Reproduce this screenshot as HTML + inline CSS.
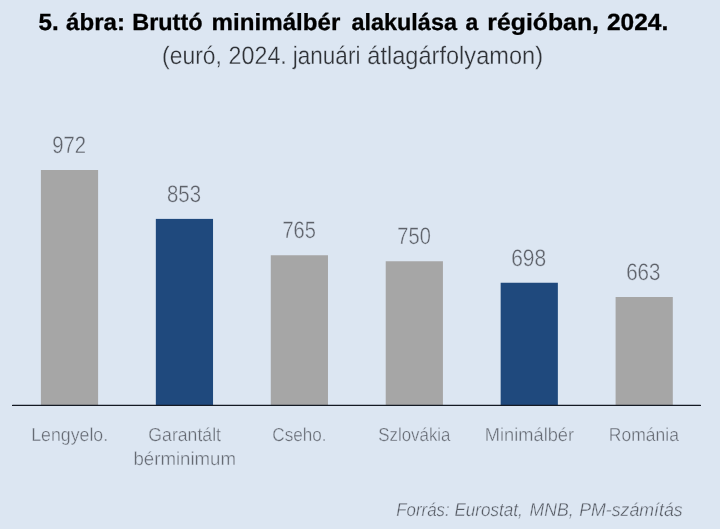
<!DOCTYPE html>
<html lang="hu"><head><meta charset="utf-8"><title>5. ábra: Bruttó minimálbér alakulása a régióban, 2024.</title>
<style>
html,body{margin:0;padding:0;background:#dce6f2;}
body{width:720px;height:529px;overflow:hidden;}
svg{display:block;font-family:"Liberation Sans",sans-serif;}
.t{font-size:23.4px;font-weight:bold;fill:#000;stroke:#000;stroke-width:0.3px;}
.s{font-size:25.2px;fill:#2f3237;stroke:#dce6f2;stroke-width:0.3px;paint-order:fill stroke;}
.v{font-size:23.8px;fill:#5e626a;stroke:#dce6f2;stroke-width:0.35px;paint-order:fill stroke;}
.c{font-size:18.8px;fill:#656a73;stroke:#dce6f2;stroke-width:0.35px;paint-order:fill stroke;}
.f{font-size:18.7px;font-style:italic;fill:#555a63;stroke:#dce6f2;stroke-width:0.35px;paint-order:fill stroke;}
</style></head><body>
<svg width="720" height="529" viewBox="0 0 720 529" style="filter:blur(0.45px)">
<rect x="0" y="0" width="720" height="529" fill="#dce6f2"/>
<rect x="40.90" y="170.0" width="57.2" height="235.40" fill="#a6a6a6"/>
<rect x="155.84" y="218.9" width="57.2" height="186.50" fill="#1f497d"/>
<rect x="270.78" y="255.25" width="57.2" height="150.15" fill="#a6a6a6"/>
<rect x="385.72" y="261.25" width="57.2" height="144.15" fill="#a6a6a6"/>
<rect x="500.66" y="282.75" width="57.2" height="122.65" fill="#1f497d"/>
<rect x="615.60" y="297.0" width="57.2" height="108.40" fill="#a6a6a6"/>
<line x1="12.6" y1="405.4" x2="700.4" y2="405.4" stroke="#141a24" stroke-width="1.35" stroke-linecap="round"/>
<text class="t" transform="translate(0,29.9) skewX(0.05)"><tspan x="38.44" textLength="20.22" lengthAdjust="spacingAndGlyphs">5.</tspan> <tspan x="66.06" textLength="58.85" lengthAdjust="spacingAndGlyphs">ábra:</tspan> <tspan x="132.18" textLength="70.42" lengthAdjust="spacingAndGlyphs">Bruttó</tspan> <tspan x="211.60" textLength="128.71" lengthAdjust="spacingAndGlyphs">minimálbér</tspan> <tspan x="351.48" textLength="105.49" lengthAdjust="spacingAndGlyphs">alakulása</tspan> <tspan x="465.38" textLength="12.74" lengthAdjust="spacingAndGlyphs">a</tspan> <tspan x="487.27" textLength="111.69" lengthAdjust="spacingAndGlyphs">régióban,</tspan> <tspan x="606.94" textLength="61.33" lengthAdjust="spacingAndGlyphs">2024.</tspan></text>
<text class="s" transform="translate(0,64.1) skewX(0.05)"><tspan x="162.06" textLength="59.92" lengthAdjust="spacingAndGlyphs">(euró,</tspan> <tspan x="228.61" textLength="58.16" lengthAdjust="spacingAndGlyphs">2024.</tspan> <tspan x="292.80" textLength="67.61" lengthAdjust="spacingAndGlyphs">januári</tspan> <tspan x="367.29" textLength="175.78" lengthAdjust="spacingAndGlyphs">átlagárfolyamon)</tspan></text>
<text class="v" transform="translate(0,152.9) skewX(0.05)"><tspan x="52.17" textLength="33.82" lengthAdjust="spacingAndGlyphs">972</tspan></text>
<text class="v" transform="translate(0,201.7) skewX(0.05)"><tspan x="166.99" textLength="33.98" lengthAdjust="spacingAndGlyphs">853</tspan></text>
<text class="v" transform="translate(0,238.3) skewX(0.05)"><tspan x="282.48" textLength="33.44" lengthAdjust="spacingAndGlyphs">765</tspan></text>
<text class="v" transform="translate(0,244.3) skewX(0.05)"><tspan x="397.35" textLength="33.45" lengthAdjust="spacingAndGlyphs">750</tspan></text>
<text class="v" transform="translate(0,266.0) skewX(0.05)"><tspan x="511.17" textLength="34.98" lengthAdjust="spacingAndGlyphs">698</tspan></text>
<text class="v" transform="translate(0,280.3) skewX(0.05)"><tspan x="626.20" textLength="34.30" lengthAdjust="spacingAndGlyphs">663</tspan></text>
<text class="c" transform="translate(0,440.5) skewX(0.05)"><tspan x="31.25" textLength="76.87" lengthAdjust="spacingAndGlyphs">Lengyelo.</tspan></text>
<text class="c" transform="translate(0,440.5) skewX(0.05)"><tspan x="148.34" textLength="72.64" lengthAdjust="spacingAndGlyphs">Garantált</tspan></text>
<text class="c" transform="translate(0,464.9) skewX(0.05)"><tspan x="133.45" textLength="102.57" lengthAdjust="spacingAndGlyphs">bérminimum</tspan></text>
<text class="c" transform="translate(0,440.5) skewX(0.05)"><tspan x="272.30" textLength="54.24" lengthAdjust="spacingAndGlyphs">Cseho.</tspan></text>
<text class="c" transform="translate(0,440.5) skewX(0.05)"><tspan x="378.18" textLength="72.31" lengthAdjust="spacingAndGlyphs">Szlovákia</tspan></text>
<text class="c" transform="translate(0,440.5) skewX(0.05)"><tspan x="484.76" textLength="89.36" lengthAdjust="spacingAndGlyphs">Minimálbér</tspan></text>
<text class="c" transform="translate(0,440.5) skewX(0.05)"><tspan x="608.84" textLength="70.04" lengthAdjust="spacingAndGlyphs">Románia</tspan></text>
<text class="f" transform="translate(0,516.3) skewX(0.05)"><tspan x="396.27" textLength="53.35" lengthAdjust="spacingAndGlyphs">Forrás:</tspan> <tspan x="454.40" textLength="68.42" lengthAdjust="spacingAndGlyphs">Eurostat,</tspan> <tspan x="529.62" textLength="44.03" lengthAdjust="spacingAndGlyphs">MNB,</tspan> <tspan x="579.14" textLength="103.55" lengthAdjust="spacingAndGlyphs">PM-számítás</tspan></text>
</svg></body></html>
